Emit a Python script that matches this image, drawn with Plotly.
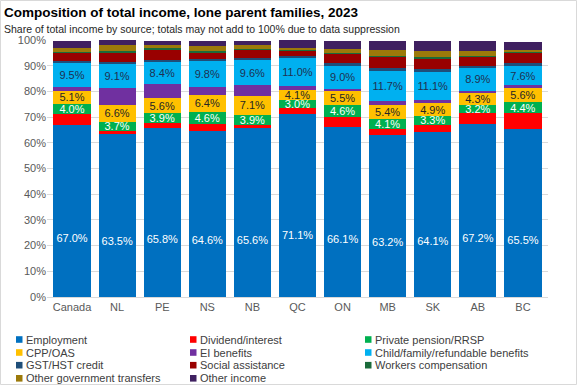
import plotly.graph_objects as go

categories = ["Canada", "NL", "PE", "NS", "NB", "QC", "ON", "MB", "SK", "AB", "BC"]
employment = [67.0, 63.5, 65.8, 64.6, 65.6, 71.1, 66.1, 63.2, 64.1, 67.2, 65.5]
dividend = [4.2, 1.0, 2.0, 2.9, 1.5, 2.5, 3.9, 2.1, 3.0, 4.5, 6.0]
pension = [4.0, 3.7, 3.9, 4.6, 3.9, 3.0, 4.6, 4.1, 3.3, 3.2, 4.4]
cpp_oas = [5.1, 6.6, 5.6, 6.4, 7.1, 4.1, 5.5, 5.4, 4.9, 4.3, 5.6]
ei = [1.4, 6.6, 5.6, 3.4, 4.4, 1.5, 0.9, 1.3, 1.3, 1.0, 0.8]
child = [9.5, 9.1, 8.4, 9.8, 9.6, 11.0, 9.0, 11.7, 11.1, 8.9, 7.6]
gst = [0.8, 1.0, 1.0, 0.8, 0.9, 0.7, 1.0, 1.2, 0.9, 0.9, 1.0]
social = [3.2, 3.8, 3.9, 2.5, 3.2, 1.7, 3.8, 4.5, 4.2, 3.6, 3.9]
workers = [0.3, 0.6, 0.5, 0.6, 0.4, 0.8, 0.3, 0.3, 0.4, 0.3, 0.8]
other_gov = [1.3, 2.1, 1.5, 2.1, 1.3, 0.5, 1.5, 2.2, 2.6, 1.9, 0.6]
other_inc = [2.9, 2.1, 1.5, 2.1, 1.8, 3.0, 3.2, 3.7, 3.8, 3.7, 3.2]

y_ticks = [0, 10, 20, 30, 40, 50, 60, 70, 80, 90, 100]

series = [
    ("Employment", employment, "#0070C0", None),
    ("Dividend/interest", dividend, "#FF0000", None),
    ("Private pension/RRSP", pension, "#00B050", "#FFFFFF"),
    ("CPP/OAS", cpp_oas, "#FFC000", "#262626"),
    ("EI benefits", ei, "#7030A0", None),
    ("Child/family/refundable benefits", child, "#00B0F0", "#1F3050"),
    ("GST/HST credit", gst, "#1F4E79", None),
    ("Social assistance", social, "#990000", None),
    ("Workers compensation", workers, "#1B6B3A", None),
    ("Other government transfers", other_gov, "#9C7A0A", None),
    ("Other income", other_inc, "#3F2060", None),
]

FONT = "Liberation Sans, Arial, sans-serif"
W_FIG, H_FIG = 577, 385
L, R, T, B = 47, 29, 40, 88
PW = W_FIG - L - R
PH = H_FIG - T - B


def px_x(px):
    return (px - L) / PW


def px_y(py):
    return (H_FIG - B - py) / PH


fig = go.Figure()
for name, vals, color, tcolor in series:
    kw = {}
    if tcolor is not None:
        kw = dict(
            text=[f"{v:.1f}%" for v in vals],
            textposition="inside",
            insidetextanchor="middle",
            textangle=0,
            constraintext="none",
            textfont=dict(family=FONT, size=11, color=tcolor),
        )
    fig.add_trace(go.Bar(
        x=categories, y=vals, name=name, marker=dict(color=color, line=dict(width=0)),
        showlegend=False, hoverinfo="skip", **kw))

# Employment labels (placed in the lower part of the segment, as in the reference)
fig.add_trace(go.Scatter(
    x=categories, y=[v / 3 for v in employment], mode="text",
    text=[f"{v:.1f}%" for v in employment],
    textfont=dict(family=FONT, size=11, color="#FFFFFF"),
    showlegend=False, hoverinfo="skip"))

annotations = [
    dict(text="<b>Composition of total income, lone parent families, 2023</b>",
         x=px_x(2), y=px_y(13), xref="paper", yref="paper", xanchor="left", yanchor="middle",
         showarrow=False, font=dict(family=FONT, size=13.5, color="#000000")),
    dict(text="Share of total income by source; totals may not add to 100% due to data suppression",
         x=px_x(2), y=px_y(29), xref="paper", yref="paper", xanchor="left", yanchor="middle",
         showarrow=False, font=dict(family=FONT, size=10.5, color="#262626")),
]
shapes = []

col_marker_x = [16, 190, 365]
col_text_x = [24, 198, 373]
row_y = [339.5, 352.5, 365.2, 378.3]
for i, (name, vals, color, tcolor) in enumerate(series):
    r, c = divmod(i, 3)
    cy = row_y[r]
    mx = col_marker_x[c]
    shapes.append(dict(type="rect", xref="paper", yref="paper",
                       x0=px_x(mx), x1=px_x(mx + 6.5), y0=px_y(cy + 3.3), y1=px_y(cy - 3.3),
                       fillcolor=color, line=dict(width=0), layer="above"))
    annotations.append(dict(text=name, x=px_x(col_text_x[c]), y=px_y(cy), xref="paper", yref="paper",
                            xanchor="left", yanchor="middle", showarrow=False,
                            font=dict(family=FONT, size=11, color="#404040")))

# outer chart border
shapes.append(dict(type="rect", xref="paper", yref="paper",
                   x0=px_x(0.5), x1=px_x(W_FIG - 0.5), y0=px_y(H_FIG - 0.5), y1=px_y(0.5),
                   line=dict(color="#D9D9D9", width=1), fillcolor="rgba(0,0,0,0)", layer="below"))

fig.update_layout(
    width=W_FIG, height=H_FIG,
    margin=dict(l=L, r=R, t=T, b=B),
    barmode="stack",
    bargap=0.176,
    plot_bgcolor="#FFFFFF",
    paper_bgcolor="#FFFFFF",
    font=dict(family=FONT, size=11, color="#595959"),
    annotations=annotations,
    shapes=shapes,
    xaxis=dict(showgrid=False, showline=True, linecolor="#D9D9D9", linewidth=1,
               ticks="", tickfont=dict(family=FONT, size=11, color="#595959"), fixedrange=True),
    yaxis=dict(range=[0, 100], tickvals=y_ticks, ticktext=[f"{t}%" for t in y_ticks],
               showgrid=True, gridcolor="#D9D9D9", gridwidth=1, zeroline=False,
               showline=False, ticks="", tickfont=dict(family=FONT, size=11, color="#595959"),
               fixedrange=True),
)

fig.write_html("out.html", config={"displayModeBar": False},
               post_script="document.body.style.margin='0';document.body.style.overflow='hidden';")
